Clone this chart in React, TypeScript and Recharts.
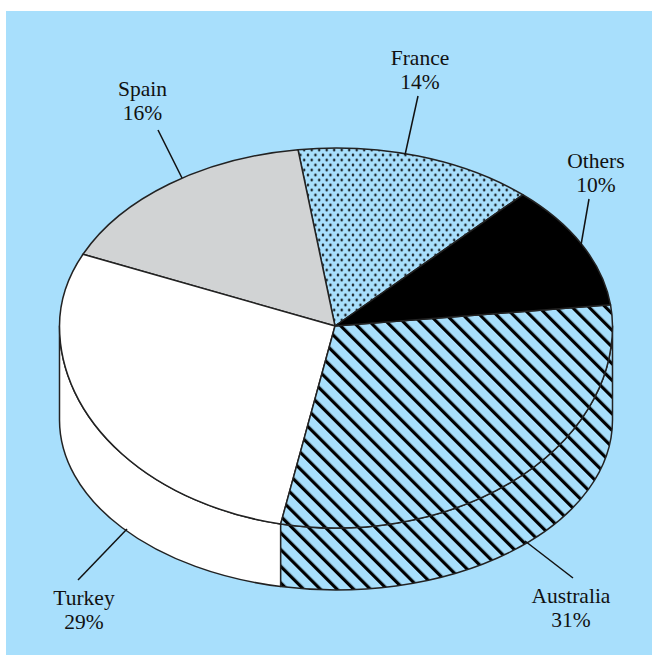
import React from "react";
import { PieChart, Pie } from "recharts";

const categories = ["France", "Spain", "Turkey", "Australia", "Others"];
const shares = [14, 16.2, 28.4, 30.1, 11.3];
// Percentages as printed on the picture's labels.
const printedPercents = [14, 16, 29, 31, 10];
const chartData = categories.map((name, i) => ({ name, value: shares[i], printed: printedPercents[i] }));

const FONT = "'Liberation Serif', 'Times New Roman', serif";
const BLUE = "#a8dffc";
const EDGE = "#222222";
const CX = 336;
const CY = 326;
const RX = 276.5;
const TILT_FAR = 178 / 276.5;
const TILT_NEAR = 202 / 276.5;
const WALL_DROP = 94;
const WALL_TILT = 170 / 276.5;

const fills: Record<string, string> = {
  France: "url(#dots)",
  Spain: "#d1d3d4",
  Turkey: "#ffffff",
  Australia: "url(#hatch)",
  Others: "#000000",
};

const labelLayout: Record<string, { x: number; y: number; from: number[]; to: number[] }> = {
  France: { x: 420, y: 65, from: [418, 96], to: [405, 155] },
  Spain: { x: 142.5, y: 96, from: [158, 130], to: [182, 178] },
  Others: { x: 596, y: 168, from: [589, 199], to: [581, 245] },
  Australia: { x: 571, y: 603, from: [573, 578], to: [525, 541] },
  Turkey: { x: 84, y: 605, from: [78, 580], to: [127, 529] },
};

const rad = (d: number) => (d * Math.PI) / 180;

function SliceShape(props: any) {
  const { cx, cy, outerRadius, startAngle, endAngle, fill, stroke } = props;
  const rx = outerRadius;
  const ryAt = (a: number) => outerRadius * (Math.sin(rad(a)) >= 0 ? TILT_FAR : TILT_NEAR);
  const pt = (a: number) => [cx + rx * Math.cos(rad(a)), cy - ryAt(a) * Math.sin(rad(a))];
  const lowPt = (a: number) => [
    cx + rx * Math.cos(rad(a)),
    cy + WALL_DROP - outerRadius * WALL_TILT * Math.sin(rad(a)),
  ];
  const lo = Math.min(startAngle, endAngle);
  const hi = Math.max(startAngle, endAngle);

  // Rim of the top face, split where the far half meets the near half.
  const breaks = [lo, ...[180, 360].filter((b) => b > lo && b < hi), hi];
  let rim = "";
  for (let i = 1; i < breaks.length; i++) {
    const mid = (breaks[i - 1] + breaks[i]) / 2;
    const [x, y] = pt(breaks[i]);
    const ry = outerRadius * (Math.sin(rad(mid)) >= 0 ? TILT_FAR : TILT_NEAR);
    rim += ` A${rx},${ry} 0 0 0 ${x},${y}`;
  }
  const [x0, y0] = pt(lo);
  const top = `M${cx - 1},${cy} L${x0},${y0}${rim} Z`;

  const wl = Math.max(lo, 180);
  const wh = Math.min(hi, 360);
  let wall = "";
  if (wh > wl) {
    const [a, b] = pt(wl);
    const [c, d] = pt(wh);
    const [e, f] = lowPt(wh);
    const [g, h] = lowPt(wl);
    const ryNear = outerRadius * TILT_NEAR;
    const ryLow = outerRadius * WALL_TILT;
    wall =
      `M${a},${b} A${rx},${ryNear} 0 0 0 ${c},${d} L${e},${f} ` +
      `A${rx},${ryLow} 0 0 1 ${g},${h} Z`;
  }
  return (
    <g>
      {wall && <path d={wall} fill={fill} stroke={stroke} strokeWidth={1.5} strokeLinejoin="round" />}
      <path d={top} fill={fill} stroke={stroke} strokeWidth={1.5} strokeLinejoin="round" />
    </g>
  );
}

function SliceLabel(props: any) {
  const { name, printed } = props;
  const l = labelLayout[name];
  return (
    <g>
      <line x1={l.from[0]} y1={l.from[1]} x2={l.to[0]} y2={l.to[1]} stroke="#111" strokeWidth={1.5} />
      <text x={l.x} textAnchor="middle" fontFamily={FONT} fontSize={21.5} fill="#111">
        <tspan x={l.x} y={l.y}>{name}</tspan>
        <tspan x={l.x} y={l.y + 24}>{printed}%</tspan>
      </text>
    </g>
  );
}

export default function App() {
  return (
    <div style={{ position: "absolute", left: 0, top: 0, width: 661, height: 663, background: "#fff" }}>
      <div style={{ position: "absolute", left: 6, top: 11, width: 646, height: 644, background: BLUE }} />
      <div style={{ position: "absolute", left: 0, top: 0 }}>
        <PieChart width={661} height={663} margin={{ top: 0, right: 0, bottom: 0, left: 0 }}>
          <defs>
            <pattern id="hatch" patternUnits="userSpaceOnUse" width={11.8} height={11.8} patternTransform="rotate(-45) translate(8.9 0)">
              <rect width={11.8} height={11.8} fill={BLUE} />
              <rect x={0} y={0} width={3.2} height={11.8} fill="#000" />
            </pattern>
            <pattern id="dots" patternUnits="userSpaceOnUse" width={7.5} height={10} patternTransform="translate(0.45 -2.5)">
              <rect width={7.5} height={10} fill={BLUE} />
              <circle cx={3.75} cy={2.5} r={1.2} fill="#000" />
              <circle cx={0} cy={7.5} r={1.2} fill="#000" />
              <circle cx={7.5} cy={7.5} r={1.2} fill="#000" />
            </pattern>
          </defs>
          <Pie
            data={chartData.map((d) => ({ ...d, fill: fills[d.name] }))}
            dataKey="value"
            nameKey="name"
            cx={CX}
            cy={CY}
            outerRadius={RX}
            innerRadius={0}
            startAngle={47.5}
            endAngle={407.5}
            paddingAngle={0}
            stroke={EDGE}
            isAnimationActive={false}
            shape={SliceShape}
            label={SliceLabel}
            labelLine={false}
          />
        </PieChart>
      </div>
    </div>
  );
}
